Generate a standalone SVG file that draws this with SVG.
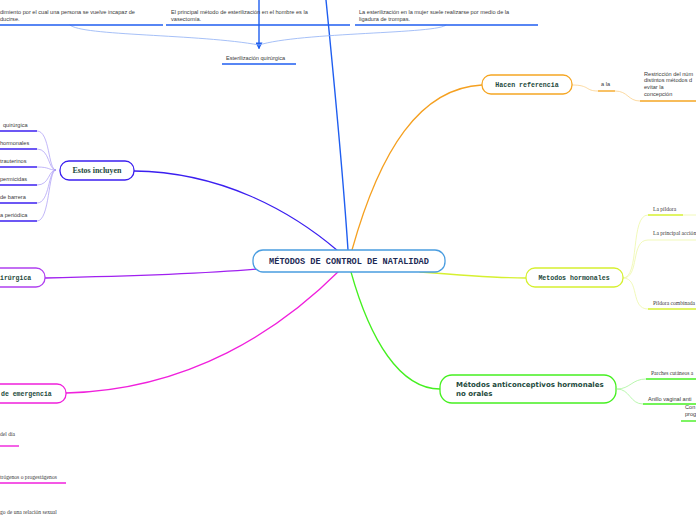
<svg xmlns="http://www.w3.org/2000/svg" width="696" height="520" viewBox="0 0 696 520">
<style>
.t{font-family:"Liberation Sans",Arial,sans-serif;font-size:5.6px;fill:#3a3a3a}
.s{font-family:"Liberation Serif","Times New Roman",serif;font-size:5.6px;fill:#3a3a3a}
.m{font-family:"Liberation Mono","Courier New",monospace;font-weight:bold;fill:#1d4a3c}
.c{fill:none;stroke-linecap:round}
.box{fill:#fff;stroke-width:1.3}
</style>
<defs>
<marker id="ar" viewBox="0 0 10 10" refX="8" refY="5" markerWidth="5" markerHeight="5" orient="auto">
<path d="M0,0 L10,5 L0,10 z" fill="#1f5ef0"/>
</marker>
</defs>
<rect width="696" height="520" fill="#fff"/>
<g id="connectors">
<path class="c" d="M326,0 C334,80 342,160 348,250" stroke="#1f5ef0" stroke-width="1.4"/>
<path class="c" d="M259,0 L259,48" stroke="#1f5ef0" stroke-width="1.4" marker-end="url(#ar)"/>
<path class="c" d="M70,25 C80,36 200,34 259,45" stroke="#8fb0f5" stroke-width="0.8"/>
<path class="c" d="M446,25 C440,34 300,32 259,45" stroke="#8fb0f5" stroke-width="0.8"/>
<path class="c" d="M134,171 C220,172 290,210 338,251" stroke="#3b1ff0" stroke-width="1.3"/>
<path class="c" d="M45,278 C140,276 200,274 258,269" stroke="#a020f0" stroke-width="1.3"/>
<path class="c" d="M66,393 C190,390 280,330 340,270" stroke="#f020dc" stroke-width="1.3"/>
<path class="c" d="M352,250 C380,150 420,88 482,85" stroke="#f5a020" stroke-width="1.3"/>
<path class="c" d="M351,272 C370,340 400,389 440,389" stroke="#45f020" stroke-width="1.3"/>
<path class="c" d="M420,272 C470,276 495,278 526,278" stroke="#d6f030" stroke-width="1.3"/>
<g stroke="#a898f5" stroke-width="0.7" fill="none">
<path d="M37,131 C50,131 48,170 56,170"/>
<path d="M37,149 C50,149 48,170 56,170"/>
<path d="M37,167 C50,167 48,170 56,170"/>
<path d="M37,185 C50,185 48,170 56,170"/>
<path d="M37,203 C50,203 48,170 56,170"/>
<path d="M37,221 C50,221 48,170 56,170"/>
</g>
<g fill="none" stroke-width="0.8">
<path d="M572,85 C590,85 585,91 598,91" stroke="#fbd08a"/>
<path d="M615,91 C628,91 628,101 640,101" stroke="#fbd08a"/>
<path d="M623,278 C640,278 630,215 648,215" stroke="#eef8a8"/>
<path d="M623,278 C640,278 630,240 648,240" stroke="#eef8a8"/>
<path d="M623,278 C640,278 630,309 648,309" stroke="#eef8a8"/>
<path d="M617,389 C630,389 632,379 646,379" stroke="#a8f59a"/>
<path d="M617,389 C630,389 630,404 643,404" stroke="#a8f59a"/>
</g>
</g>
<g id="n-top-left">
<text class="t" x="0" y="14">dimiento por el cual una persona se vuelve incapaz de</text>
<text class="t" x="0" y="21">ducirse.</text>
<line x1="0" y1="25" x2="163" y2="25" stroke="#1f5ef0" stroke-width="1.4"/>
</g>
<g id="n-top-mid">
<text class="t" x="171" y="14">El principal método de esterilización en el hombre es la</text>
<text class="t" x="171" y="21">vasectomía.</text>
<line x1="166" y1="25" x2="350" y2="25" stroke="#1f5ef0" stroke-width="1.4"/>
</g>
<g id="n-top-right">
<text class="t" x="359" y="14">La esterilización en la mujer suele realizarse por medio de la</text>
<text class="t" x="359" y="21">ligadura de trompas.</text>
<line x1="355" y1="25" x2="538" y2="25" stroke="#1f5ef0" stroke-width="1.4"/>
</g>
<g id="n-esterilizacion">
<text class="t" x="226" y="60">Esterilización quirúrgica</text>
<line x1="222" y1="64" x2="296" y2="64" stroke="#1f5ef0" stroke-width="1.4"/>
</g>
<g id="n-central">
<rect class="box" x="253" y="250" width="192" height="22" rx="10" stroke="#4a9de0"/>
<text class="m" x="349" y="264" font-size="8.6" text-anchor="middle" style="fill:#1d2a55">MÉTODOS DE CONTROL DE NATALIDAD</text>
</g>
<g id="n-estos">
<rect class="box" x="60" y="161" width="74" height="19" rx="9" stroke="#3b1ff0"/>
<text x="97" y="173" text-anchor="middle" font-family="Liberation Serif,serif" font-weight="bold" font-size="8" fill="#1d4a3c">Estos incluyen</text>
</g>
<g id="n-estos-children" stroke="#3b1ff0" stroke-width="1.4">
<text class="t" x="3" y="127" stroke="none">quirúrgica</text>
<line x1="0" y1="131" x2="37" y2="131"/>
<text class="t" x="0" y="145" stroke="none">hormonales</text>
<line x1="0" y1="149" x2="37" y2="149"/>
<text class="t" x="0" y="163" stroke="none">trauterinos</text>
<line x1="0" y1="167" x2="37" y2="167"/>
<text class="t" x="0" y="181" stroke="none">permicidas</text>
<line x1="0" y1="185" x2="37" y2="185"/>
<text class="t" x="0" y="199" stroke="none">de barrera</text>
<line x1="0" y1="203" x2="37" y2="203"/>
<text class="t" x="0" y="217" stroke="none">a periódica</text>
<line x1="0" y1="221" x2="37" y2="221"/>
</g>
<g id="n-quirurgica">
<rect class="box" x="-20" y="268" width="65" height="19" rx="9" stroke="#b040f0"/>
<text class="m" x="0" y="280" font-size="6.5">irúrgica</text>
</g>
<g id="n-emergencia">
<rect class="box" x="-20" y="384" width="86" height="19" rx="9" stroke="#f020dc"/>
<text class="m" x="1" y="396" font-size="6.5">de emergencia</text>
</g>
<g id="n-emergencia-children">
<text class="s" x="0" y="436">del día</text>
<line x1="0" y1="446" x2="19" y2="446" stroke="#f020dc" stroke-width="1.4"/>
<text class="s" x="0" y="479">trógenos o progestágenos</text>
<line x1="0" y1="483" x2="66" y2="483" stroke="#f020dc" stroke-width="1.4"/>
<text class="s" x="0" y="514">go de una relación sexual</text>
</g>
<g id="n-hacen">
<rect class="box" x="482" y="75" width="90" height="19" rx="9" stroke="#f5a623"/>
<text class="m" x="527" y="87" font-size="6.6" text-anchor="middle">Hacen referencia</text>
</g>
<g id="n-ala">
<text class="t" x="601" y="86">a la</text>
<line x1="598" y1="91" x2="615" y2="91" stroke="#f5a623" stroke-width="1.4"/>
</g>
<g id="n-restriccion">
<text class="t" x="644" y="76">Restricción del núm</text>
<text class="t" x="644" y="82">distintos métodos d</text>
<text class="t" x="644" y="89">evitar la</text>
<text class="t" x="644" y="96">concepción</text>
<line x1="640" y1="101" x2="696" y2="101" stroke="#f5a623" stroke-width="1.4"/>
</g>
<g id="n-hormonales">
<rect class="box" x="526" y="268" width="97" height="19" rx="9" stroke="#d6f030"/>
<text class="m" x="574" y="280" font-size="6.6" text-anchor="middle">Metodos hormonales</text>
</g>
<g id="n-hormonales-children">
<text class="s" x="653" y="211">La píldora</text>
<line x1="648" y1="215" x2="683" y2="215" stroke="#d6f030" stroke-width="1.4"/>
<line x1="683" y1="215" x2="696" y2="215" stroke="#eef8a8" stroke-width="0.8"/>
<text class="s" x="653" y="235">La principal acción</text>
<line x1="648" y1="240" x2="696" y2="240" stroke="#eef8a8" stroke-width="0.8"/>
<text class="s" x="653" y="305">Píldora combinada</text>
<line x1="648" y1="309" x2="696" y2="309" stroke="#d6f030" stroke-width="1.4"/>
</g>
<g id="n-no-orales">
<rect class="box" x="440" y="375" width="176" height="28" rx="12" stroke="#45f020"/>
<text x="456" y="387" font-family="DejaVu Sans,Verdana,sans-serif" font-weight="bold" font-size="7" fill="#1d4a3c">Métodos anticonceptivos hormonales</text>
<text x="456" y="396" font-family="DejaVu Sans,Verdana,sans-serif" font-weight="bold" font-size="7" fill="#1d4a3c">no orales</text>
</g>
<g id="n-no-orales-children">
<text class="s" x="651" y="375">Parches cutáneos a</text>
<line x1="646" y1="379" x2="696" y2="379" stroke="#45f020" stroke-width="1.4"/>
<text class="t" x="648" y="401">Anillo vaginal anti</text>
<line x1="643" y1="404" x2="696" y2="404" stroke="#45f020" stroke-width="1.4"/>
<text class="t" x="685" y="409">Con</text>
<text class="t" x="685" y="416">prog</text>
<line x1="681" y1="421" x2="696" y2="421" stroke="#45f020" stroke-width="1.4"/>
</g>
</svg>
